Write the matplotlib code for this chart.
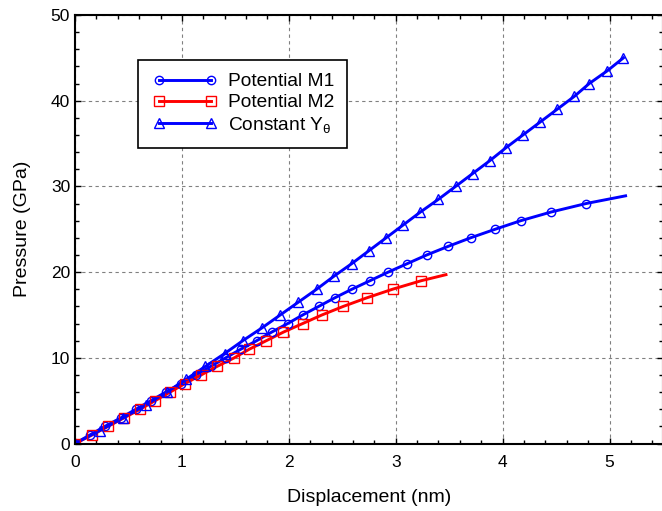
import matplotlib
matplotlib.use("Agg")
import matplotlib.pyplot as plt
from matplotlib.ticker import MultipleLocator
from matplotlib.lines import Line2D
from matplotlib.legend_handler import HandlerLine2D

plt.rcParams['font.family'] = ['Liberation Sans', 'DejaVu Sans']
plt.rcParams['mathtext.fontset'] = 'custom'
plt.rcParams['mathtext.rm'] = 'Liberation Sans'
plt.rcParams['mathtext.it'] = 'Liberation Sans:italic'

# Potential M1 (circles, one every 1 GPa)
m1_x = [0, 0.14, 0.28, 0.43, 0.57, 0.71, 0.85, 0.99, 1.13, 1.27, 1.41, 1.55, 1.70,
        1.84, 1.99, 2.13, 2.28, 2.43, 2.59, 2.76, 2.93, 3.11, 3.29, 3.49, 3.70,
        3.93, 4.17, 4.45, 4.78]
m1_y = list(range(0, 29))
m1_end = (5.15, 28.9)

# Potential M2 (squares)
m2_x = [0, 0.16, 0.31, 0.46, 0.61, 0.75, 0.89, 1.03, 1.18, 1.33, 1.49, 1.63, 1.79,
        1.95, 2.13, 2.31, 2.51, 2.73, 2.97, 3.24]
m2_y = list(range(0, 20))
m2_end = (3.47, 19.7)

# Constant Y_theta (triangles, one every 1.5 GPa)
cy_x = [0, 0.23, 0.45, 0.66, 0.86, 1.04, 1.22, 1.40, 1.57, 1.75, 1.92, 2.09, 2.26,
        2.42, 2.59, 2.75, 2.91, 3.07, 3.23, 3.40, 3.56, 3.72, 3.88, 4.03, 4.19,
        4.35, 4.51, 4.67, 4.81, 4.98, 5.13]
cy_y = [0, 1.5, 3, 4.5, 6, 7.5, 9, 10.5, 12, 13.5, 15, 16.5, 18, 19.5, 21, 22.5, 24,
        25.5, 27, 28.5, 30, 31.5, 33, 34.5, 36, 37.5, 39, 40.5, 42, 43.5, 45]

labels = ['Potential M1', 'Potential M2', r'Constant Y$_{\mathrm{\theta}}$']

fig = plt.figure(figsize=(6.62, 5.11), dpi=100)
ax = fig.add_axes([75/662, 1 - 443.5/511, 588/662, 428.5/511])

blue = '#0000ff'
red = '#ff0000'

ax.plot(m1_x + [m1_end[0]], m1_y + [m1_end[1]], color=blue, lw=2.1)
ax.plot(m2_x + [m2_end[0]], m2_y + [m2_end[1]], color=red, lw=2.1)
ax.plot(cy_x, cy_y, color=blue, lw=2.1)

ax.plot(m1_x, m1_y, 'o', mfc='none', mec=blue, ms=6, mew=1)
ax.plot(m2_x, m2_y, 's', mfc='none', mec=red, ms=6.5, mew=1)
ax.plot(cy_x, cy_y, '^', mfc='none', mec=blue, ms=6.5, mew=1)

# legend handles
h1, = ax.plot([], [], '-o', color=blue, mfc='none', mec=blue, lw=2.1, ms=6, mew=1)
h2, = ax.plot([], [], '-s', color=red, mfc='none', mec=red, lw=2.1, ms=6.5, mew=1)
h3, = ax.plot([], [], '-^', color=blue, mfc='none', mec=blue, lw=2.1, ms=6.5, mew=1)
leg = ax.legend([h1, h2, h3], labels,
                loc='upper left', bbox_to_anchor=(0.107, 0.895), borderaxespad=0,
                fontsize=13.8, frameon=True, fancybox=False, edgecolor='black',
                framealpha=1, handlelength=3.55, handletextpad=0.45,
                labelspacing=0.18, borderpad=0.68, numpoints=2,
                handler_map={Line2D: HandlerLine2D(marker_pad=0.4)})
leg.get_frame().set_linewidth(1.2)

ax.set_xlim(0, 5.5)
ax.set_ylim(0, 50)
ax.xaxis.set_major_locator(MultipleLocator(1))
ax.xaxis.set_minor_locator(MultipleLocator(0.2))
ax.yaxis.set_major_locator(MultipleLocator(10))
ax.yaxis.set_minor_locator(MultipleLocator(2))
ax.tick_params(which='both', direction='in', top=True, right=True, labelsize=12.5)
ax.tick_params(which='major', length=4, width=1)
ax.tick_params(which='minor', length=3, width=1)
ax.tick_params(axis='x', pad=8)
ax.grid(True, which='major', color='gray', linestyle=(0, (3, 3)), lw=0.8)
for s in ax.spines.values():
    s.set_linewidth(1.5)

ax.set_xlabel('Displacement (nm)', fontsize=14, labelpad=14)
ax.set_ylabel('Pressure (GPa)', fontsize=14, labelpad=14)

fig.savefig('out.png', dpi=100)
